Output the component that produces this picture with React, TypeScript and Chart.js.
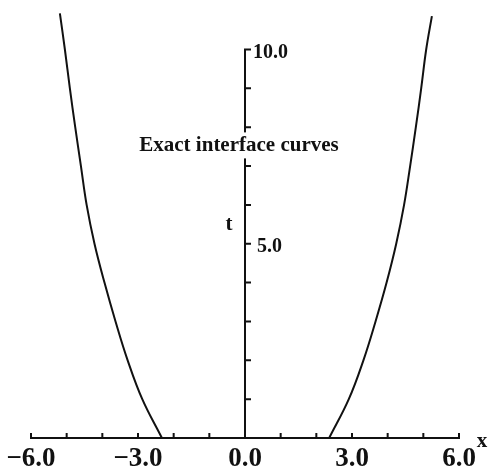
import React, { useEffect, useRef } from "react";
import { Chart, registerables } from "chart.js";

Chart.register(...registerables);

// Interface position x at time t for the left and right fronts
const leftT = [0, 1, 2, 3, 4, 5, 6, 7, 8, 9, 10, 10.93];
const leftX = [-2.33, -2.88, -3.29, -3.63, -3.94, -4.22, -4.44, -4.6, -4.76, -4.91, -5.05, -5.19];
const rightT = [0, 1, 2, 3, 4, 5, 6, 7, 8, 9, 10, 10.86];
const rightX = [2.36, 2.91, 3.32, 3.66, 3.97, 4.24, 4.46, 4.63, 4.79, 4.94, 5.08, 5.24];

// Axis ticks and labels
const xTickValues = [-6, -5, -4, -3, -2, -1, 0, 1, 2, 3, 4, 5, 6];
const xLabelValues = [-6, -3, 0, 3, 6];
const xLabelTexts = ["\u22126.0", "\u22123.0", "0.0", "3.0", "6.0"];
const tTickValues = [1, 2, 3, 4, 5, 6, 7, 8, 9, 10];
const tLabelValues = [5, 10];
const tLabelTexts = ["5.0", "10.0"];

const TITLE = "Exact interface curves";
const INK = "#111111";
const SERIF = "'Liberation Serif', 'DejaVu Serif', serif";

const toPoints = (xs: number[], ts: number[]) => xs.map((x, i) => ({ x, y: ts[i] }));

const axesPlugin = {
  id: "centredAxes",
  afterDraw(chart: any) {
    const { ctx } = chart;
    const xs = chart.scales.x;
    const ys = chart.scales.y;
    const x0 = xs.getPixelForValue(0);
    const yBase = ys.getPixelForValue(0);
    const tTop = ys.getPixelForValue(10);

    ctx.save();
    ctx.strokeStyle = INK;
    ctx.fillStyle = INK;
    ctx.lineWidth = 2;

    // horizontal axis with upward ticks
    ctx.beginPath();
    ctx.moveTo(xs.getPixelForValue(-6) - 1, yBase);
    ctx.lineTo(xs.getPixelForValue(6) + 1, yBase);
    for (const v of xTickValues) {
      const px = xs.getPixelForValue(v);
      ctx.moveTo(px, yBase);
      ctx.lineTo(px, yBase - 5);
    }
    ctx.stroke();

    // vertical axis with ticks to the right
    ctx.beginPath();
    ctx.moveTo(x0, yBase);
    ctx.lineTo(x0, tTop - 1);
    for (const v of tTickValues) {
      const py = ys.getPixelForValue(v);
      ctx.moveTo(x0 - 1, py);
      ctx.lineTo(x0 + 6, py);
    }
    ctx.stroke();

    // x tick labels
    ctx.font = `bold 27px ${SERIF}`;
    ctx.textAlign = "center";
    ctx.textBaseline = "alphabetic";
    xLabelValues.forEach((v, i) => {
      ctx.fillText(xLabelTexts[i], xs.getPixelForValue(v), yBase + 28);
    });

    // t tick labels
    ctx.font = `bold 20px ${SERIF}`;
    ctx.textAlign = "left";
    tLabelValues.forEach((v, i) => {
      const py = ys.getPixelForValue(v);
      const off = v === 10 ? 8 : 12;
      ctx.fillText(tLabelTexts[i], x0 + off, py + 8);
    });

    // axis names
    ctx.font = `bold 21px ${SERIF}`;
    ctx.textAlign = "center";
    ctx.fillText("t", x0 - 16, ys.getPixelForValue(5.5) + 6);
    ctx.fillText("x", xs.getPixelForValue(6) + 23, yBase + 9);

    // title, knocked out of the vertical axis
    const titleX = x0 - 6;
    const titleY = ys.getPixelForValue(7.3) - 3;
    const w = ctx.measureText(TITLE).width;
    ctx.fillStyle = "#ffffff";
    ctx.fillRect(titleX - w / 2 - 4, titleY - 19, w + 8, 26);
    ctx.fillStyle = INK;
    ctx.fillText(TITLE, titleX, titleY);
    ctx.restore();
  },
};

export default function App() {
  const ref = useRef<HTMLCanvasElement | null>(null);

  useEffect(() => {
    if (!ref.current) return;
    const line = {
      showLine: true,
      borderColor: INK,
      borderWidth: 2,
      pointRadius: 0,
      tension: 0.4,
      fill: false,
      clip: false as any,
    };
    const chart = new Chart(ref.current, {
      type: "scatter",
      data: {
        datasets: [
          { ...line, label: "left", data: toPoints(leftX, leftT) },
          { ...line, label: "right", data: toPoints(rightX, rightT) },
        ],
      },
      options: {
        responsive: false,
        animation: false,
        layout: { padding: { left: 31, right: 30, top: 49.5, bottom: 36 } },
        plugins: { legend: { display: false }, tooltip: { enabled: false } },
        scales: {
          x: { type: "linear", min: -6, max: 6, display: false },
          y: { type: "linear", min: 0, max: 10, display: false },
        },
      },
      plugins: [axesPlugin],
    });
    return () => chart.destroy();
  }, []);

  return (
    <div style={{ position: "absolute", left: 0, top: 0, width: 489, height: 474, background: "#fff" }}>
      <canvas ref={ref} width={489} height={474} />
    </div>
  );
}
